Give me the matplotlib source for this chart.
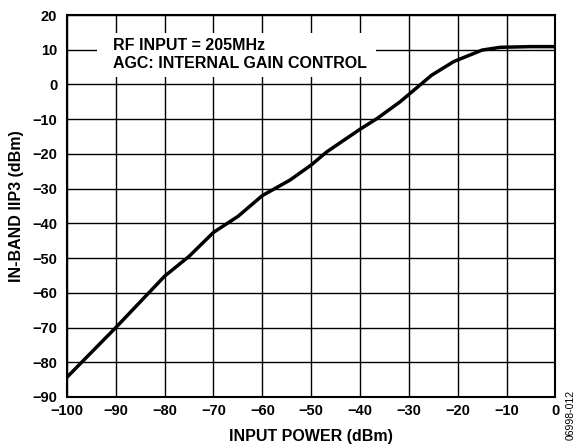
import numpy as np
from matplotlib import pyplot as plt
from matplotlib.patches import Rectangle

plt.rcParams["font.family"] = "Liberation Sans"
plt.rcParams["font.weight"] = "bold"
plt.rcParams["axes.unicode_minus"] = True

# IIP3 vs input power
input_power = [-100, -90, -80, -75, -70, -65, -60, -54.3, -50, -46.8, -40, -36.5, -31.8, -25.3, -20.8, -15, -11.3, -5, 0]
iip3 = [-84.3, -70, -55.2, -49.5, -42.6, -38, -32, -27.5, -23.2, -19.4, -12.9, -9.8, -5, 2.7, 6.6, 9.9, 10.7, 10.9, 10.9]

xticks = np.arange(-100, 1, 10)
yticks = np.arange(-90, 21, 10)

fig = plt.figure(figsize=(5.8, 4.47), dpi=100)
ax = fig.add_axes([0.1155, 0.1119, 0.842, 0.8545])

ax.plot(input_power, iip3, color="black", lw=2.5, zorder=4)
ax.set_xlim(-100, 0)
ax.set_ylim(-90, 20)
ax.set_xticks(xticks)
ax.set_yticks(yticks)
ax.grid(True, color="black", lw=1.0)
ax.tick_params(length=0, labelsize=10.5)
ax.tick_params(axis="x", pad=5)
ax.tick_params(axis="y", pad=7)
for s in ax.spines.values():
    s.set_linewidth(1.5)

# white box behind the annotation that cuts the grid
ax.add_patch(Rectangle((-93.85, 2.15), 57.15, 12.65, facecolor="white",
                       edgecolor="none", zorder=3))
ax.text(-90.6, 11.1, "RF INPUT = 205MHz", fontsize=11.5, fontweight="bold",
        va="center", ha="left", zorder=5)
ax.text(-90.6, 6.0, "AGC: INTERNAL GAIN CONTROL", fontsize=11.5,
        fontweight="bold", va="center", ha="left", zorder=5)

ax.set_xlabel("INPUT POWER (dBm)", fontsize=11.5, fontweight="bold", labelpad=8)
ax.set_ylabel("IN-BAND IIP3 (dBm)", fontsize=11.5, fontweight="bold", labelpad=6)

fig.text(0.984, 0.015, "06998-012", rotation=90, fontsize=7.5,
         fontweight="normal", ha="center", va="bottom")

fig.savefig("out.png", dpi=100)
